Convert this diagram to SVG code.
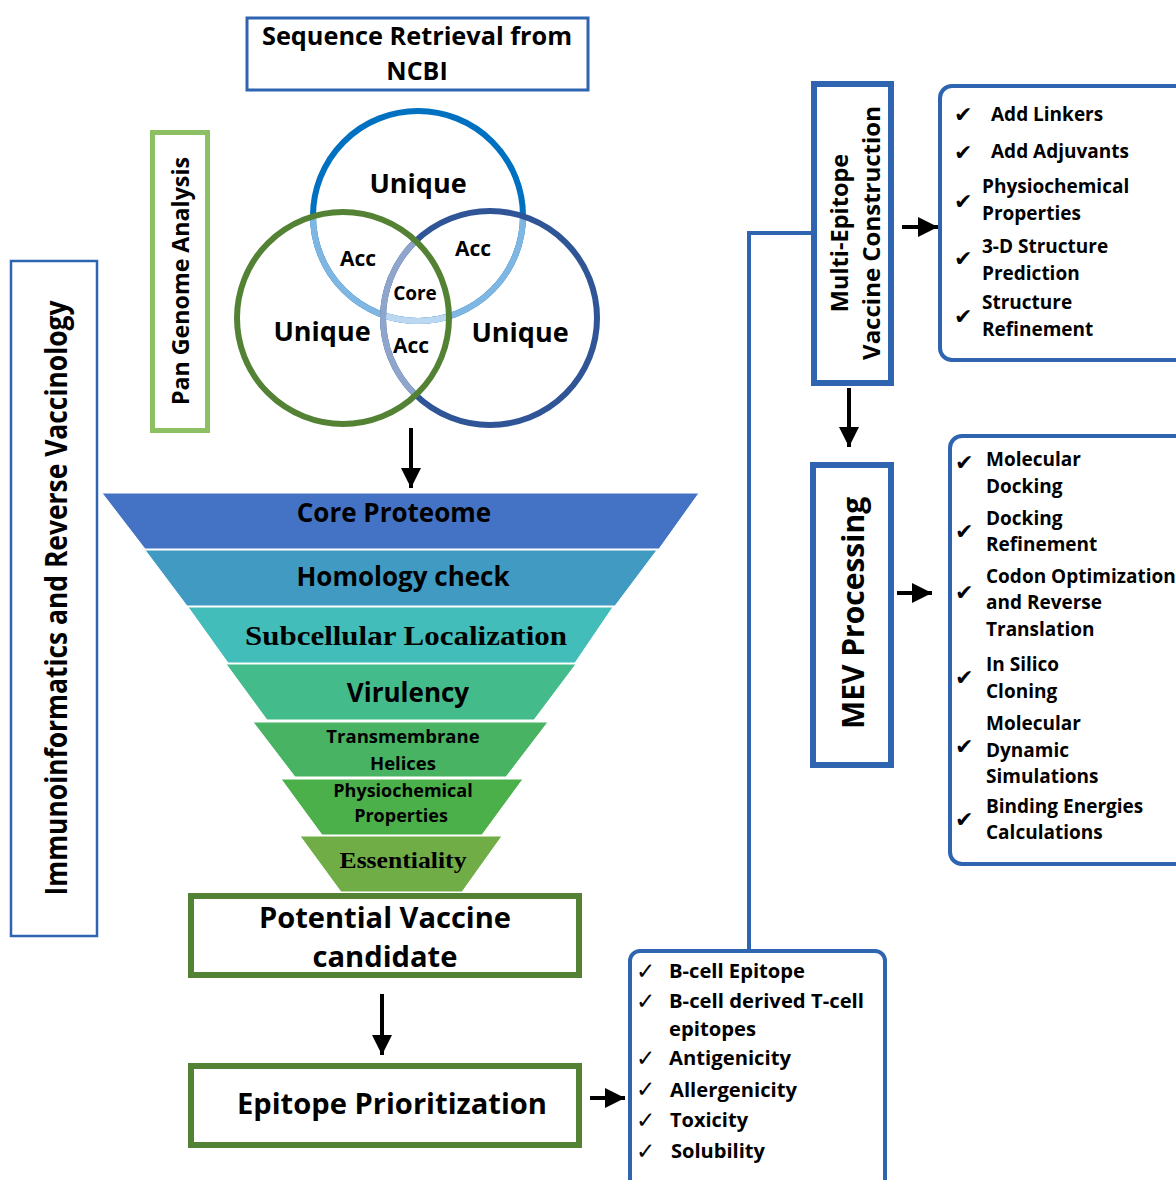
<svg xmlns="http://www.w3.org/2000/svg" width="1176" height="1180" viewBox="0 0 1176 1180">
<style>
text{font-family:"Open Sans","Liberation Sans",sans-serif;font-weight:700;fill:#000}
.c{text-anchor:middle}
.blue{fill:none;stroke:#2e64b0}
.green{fill:none;stroke:#548235;stroke-width:6}
.serif{font-family:"Liberation Serif","DejaVu Serif",serif}
.ck{font-family:"DejaVu Sans",sans-serif;font-size:22px;font-weight:700}
.ck2{font-family:"DejaVu Sans",sans-serif;font-size:23px;font-weight:700}
.li{font-size:19px}
.bl{font-size:20px}
.conn{stroke:#000;stroke-width:4;fill:none}
</style>
<defs>
<marker id="ah" viewBox="0 0 10 10" refX="10" refY="5" markerWidth="20" markerHeight="20" markerUnits="userSpaceOnUse" orient="auto">
<path d="M0,0 L10,5 L0,10 z" fill="#000"/>
</marker>
<clipPath id="cGR"><circle cx="343" cy="318" r="106"/><circle cx="490" cy="318" r="107"/></clipPath>
<clipPath id="cG"><circle cx="343" cy="318" r="106"/></clipPath>
<clipPath id="cR"><circle cx="490" cy="318" r="107"/></clipPath>
</defs>
<rect width="1176" height="1180" fill="#fff"/>

<g id="sequence-retrieval">
<rect class="blue" x="247" y="18" width="341" height="72" stroke-width="3"/>
<text class="c" x="417" y="45" font-size="25" textLength="310" lengthAdjust="spacingAndGlyphs">Sequence Retrieval from</text>
<text class="c" x="417" y="80" font-size="25">NCBI</text>
</g>

<g id="pan-genome">
<rect x="152.5" y="132.5" width="55" height="298" fill="none" stroke="#8cc063" stroke-width="5"/>
<text class="c" font-size="23" textLength="248" lengthAdjust="spacingAndGlyphs" transform="translate(189,281) rotate(-90)">Pan Genome Analysis</text>
</g>

<g id="immuno">
<rect class="blue" x="11" y="261" width="86" height="675" stroke-width="2.5"/>
<text class="c" font-size="30" textLength="595" lengthAdjust="spacingAndGlyphs" transform="translate(67,598) rotate(-90)">Immunoinformatics and Reverse Vaccinology</text>
</g>

<g id="venn">
<circle cx="418" cy="216" r="105" fill="none" stroke="#0070c0" stroke-width="6"/>
<circle cx="418" cy="216" r="105" fill="none" stroke="#7fb6e2" stroke-width="6" clip-path="url(#cGR)"/>
<g clip-path="url(#cG)"><circle cx="418" cy="216" r="105" fill="none" stroke="#bcd8f0" stroke-width="6" clip-path="url(#cR)"/></g>
<circle cx="490" cy="318" r="107" fill="none" stroke="#2f5597" stroke-width="6"/>
<circle cx="490" cy="318" r="107" fill="none" stroke="#8fa5cb" stroke-width="6" clip-path="url(#cG)"/>
<circle cx="343" cy="318" r="106" fill="none" stroke="#548235" stroke-width="6"/>
<text class="c" x="418" y="193" font-size="27">Unique</text>
<text class="c" x="322" y="341" font-size="27">Unique</text>
<text class="c" x="520" y="342" font-size="27">Unique</text>
<text class="c" x="358" y="266" font-size="21">Acc</text>
<text class="c" x="473" y="256" font-size="21">Acc</text>
<text class="c" x="411" y="353" font-size="21">Acc</text>
<text class="c" x="415" y="300" font-size="19">Core</text>
</g>

<g id="funnel">
<g stroke="#fff" stroke-width="1">
<polygon points="102,493 699,493 659,549 145,549" fill="#4472c4"/>
<polygon points="145,550 657,550 615,606 187,606" fill="#419ac2"/>
<polygon points="188,607 613,607 575,663 228,663" fill="#42bdb9"/>
<polygon points="226,664 576,664 534,720 267,720" fill="#43bb8b"/>
<polygon points="253,722 548,722 506,777 295,777" fill="#47b363"/>
<polygon points="281,779 523,779 482,835 322,835" fill="#4cb04a"/>
<polygon points="300,836 502,836 462,892 341,892" fill="#70ad47"/>
</g>
<text class="c" x="394" y="522" font-size="26">Core Proteome</text>
<text class="c" x="403" y="586" font-size="26">Homology check</text>
<text class="c serif" x="406" y="645" font-size="27" textLength="322" lengthAdjust="spacingAndGlyphs">Subcellular Localization</text>
<text class="c" x="408" y="702" font-size="26">Virulency</text>
<text class="c" x="403" y="743" font-size="18.5">Transmembrane</text>
<text class="c" x="403" y="770" font-size="18.5">Helices</text>
<text class="c" x="403" y="797" font-size="18">Physiochemical</text>
<text class="c" x="401" y="822" font-size="18">Properties</text>
<text class="c serif" x="403" y="868" font-size="23" textLength="127" lengthAdjust="spacingAndGlyphs">Essentiality</text>
</g>

<g id="potential-vaccine">
<rect class="green" x="191" y="896" width="388" height="79"/>
<text class="c" x="385" y="928" font-size="28" textLength="252" lengthAdjust="spacingAndGlyphs">Potential Vaccine</text>
<text class="c" x="385" y="967" font-size="28" textLength="145" lengthAdjust="spacingAndGlyphs">candidate</text>
</g>

<g id="epitope-prioritization">
<rect class="green" x="191" y="1066" width="388" height="79"/>
<text class="c" x="392" y="1114" font-size="29" textLength="310" lengthAdjust="spacingAndGlyphs">Epitope Prioritization</text>
</g>

<g id="epitope-list">
<rect class="blue" x="630" y="951" width="255" height="260" rx="10" stroke-width="4"/>
<text class="ck2" x="636" y="979">✓</text>
<text class="ck2" x="636" y="1009">✓</text>
<text class="ck2" x="636" y="1066">✓</text>
<text class="ck2" x="636" y="1097">✓</text>
<text class="ck2" x="636" y="1128">✓</text>
<text class="ck2" x="636" y="1159">✓</text>
<text class="bl" x="669" y="978" textLength="136" lengthAdjust="spacingAndGlyphs">B-cell Epitope</text>
<text class="bl" x="669" y="1008" textLength="195" lengthAdjust="spacingAndGlyphs">B-cell derived T-cell</text>
<text class="bl" x="669" y="1036" textLength="87" lengthAdjust="spacingAndGlyphs">epitopes</text>
<text class="bl" x="669" y="1065" textLength="122" lengthAdjust="spacingAndGlyphs">Antigenicity</text>
<text class="bl" x="670" y="1097" textLength="127" lengthAdjust="spacingAndGlyphs">Allergenicity</text>
<text class="bl" x="670" y="1127" textLength="78" lengthAdjust="spacingAndGlyphs">Toxicity</text>
<text class="bl" x="671" y="1158" textLength="94" lengthAdjust="spacingAndGlyphs">Solubility</text>
</g>

<g id="multi-epitope">
<rect class="blue" x="814" y="84" width="77" height="299" stroke-width="6"/>
<text class="c" font-size="23.5" transform="translate(848,233) rotate(-90)">Multi-Epitope</text>
<text class="c" font-size="24" transform="translate(880,233) rotate(-90)">Vaccine Construction</text>
</g>

<g id="construction-list">
<rect class="blue" x="940" y="86" width="250" height="274" rx="12" stroke-width="4"/>
<text class="ck" x="954" y="122">✔</text>
<text class="ck" x="954" y="160">✔</text>
<text class="ck" x="954" y="209">✔</text>
<text class="ck" x="954" y="266">✔</text>
<text class="ck" x="954" y="324">✔</text>
<text class="li" x="991" y="121">Add Linkers</text>
<text class="li" x="991" y="158">Add Adjuvants</text>
<text class="li" x="982" y="193">Physiochemical</text>
<text class="li" x="982" y="220">Properties</text>
<text class="li" x="982" y="253">3-D Structure</text>
<text class="li" x="982" y="280">Prediction</text>
<text class="li" x="982" y="309">Structure</text>
<text class="li" x="982" y="336">Refinement</text>
</g>

<g id="mev-processing">
<rect class="blue" x="813" y="465" width="78" height="300" stroke-width="6"/>
<text class="c" font-size="30" transform="translate(864,613) rotate(-90)">MEV Processing</text>
</g>

<g id="mev-list">
<rect class="blue" x="950" y="436" width="240" height="428" rx="12" stroke-width="4"/>
<text class="ck" x="955" y="470">✔</text>
<text class="ck" x="955" y="539">✔</text>
<text class="ck" x="955" y="600">✔</text>
<text class="ck" x="955" y="685">✔</text>
<text class="ck" x="955" y="754">✔</text>
<text class="ck" x="955" y="827">✔</text>
<text class="li" x="986" y="466">Molecular</text>
<text class="li" x="986" y="493">Docking</text>
<text class="li" x="986" y="525">Docking</text>
<text class="li" x="986" y="551">Refinement</text>
<text class="li" x="986" y="583">Codon Optimization</text>
<text class="li" x="986" y="609">and Reverse</text>
<text class="li" x="986" y="636">Translation</text>
<text class="li" x="986" y="671">In Silico</text>
<text class="li" x="986" y="698">Cloning</text>
<text class="li" x="986" y="730">Molecular</text>
<text class="li" x="986" y="757">Dynamic</text>
<text class="li" x="986" y="783">Simulations</text>
<text class="li" x="986" y="813">Binding Energies</text>
<text class="li" x="986" y="839">Calculations</text>
</g>

<g id="connectors">
<polyline points="749,951 749,233 812,233" fill="none" stroke="#2e64b0" stroke-width="4"/>
<line class="conn" x1="411" y1="428" x2="411" y2="488" marker-end="url(#ah)"/>
<line class="conn" x1="382" y1="994" x2="382" y2="1055" marker-end="url(#ah)"/>
<line class="conn" x1="590" y1="1098" x2="625" y2="1098" marker-end="url(#ah)"/>
<line class="conn" x1="902" y1="227" x2="938" y2="227" marker-end="url(#ah)"/>
<line class="conn" x1="849" y1="388" x2="849" y2="447" marker-end="url(#ah)"/>
<line class="conn" x1="897" y1="593" x2="932" y2="593" marker-end="url(#ah)"/>
</g>
</svg>
